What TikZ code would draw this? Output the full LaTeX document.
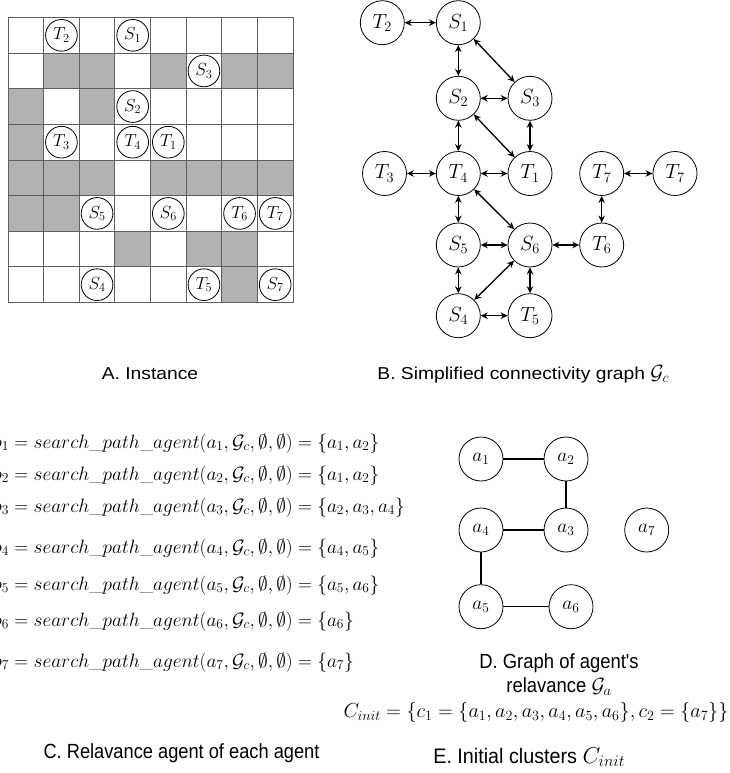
\documentclass[tikz,border=0pt]{standalone}
\usepackage{fix-cm}
\usepackage{fontspec}
\newfontfamily\labfont{Liberation Sans}
\usetikzlibrary{arrows.meta}
\definecolor{cellgray}{RGB}{178,178,178}
\definecolor{gridline}{RGB}{95,95,95}
\begin{document}
\begin{tikzpicture}[x=1pt,y=-1pt,
  cell/.style={draw=gridline, line width=0.8pt},
  gnode/.style={circle, draw, fill=white, line width=0.8pt, minimum size=31.7pt, inner sep=0pt, font=\fontsize{17.5}{20}\selectfont},
  bnode/.style={circle, draw, line width=0.8pt, minimum size=44pt, inner sep=0pt, font=\fontsize{20.5}{24}\selectfont},
  dnode/.style={circle, draw, line width=0.8pt, minimum size=44pt, inner sep=0pt, font=\fontsize{19.3}{23}\selectfont},
  biarrow/.style={line width=1.3pt, {Stealth[length=7pt,width=6.5pt]}-{Stealth[length=7pt,width=6.5pt]}},
  dedge/.style={line width=1.3pt},
  formula/.style={anchor=base west, inner sep=0pt, font=\fontsize{19.3}{23}\selectfont},
  lab/.style={anchor=base, inner sep=0pt}
]
\useasboundingbox (0,0) rectangle (729,773);

% ---------- A. grid ----------
\foreach \c/\r in {1/1,2/1,4/1,6/1,7/1,0/2,2/2,0/3,0/4,1/4,2/4,4/4,5/4,6/4,7/4,0/5,1/5,3/6,5/6,6/6,6/7}
  \fill[cellgray] ({8+35.625*\c},{17.5+35.625*\r}) rectangle ++(35.625,35.625);
\foreach \i in {0,...,8} {
  \draw[cell] ({8+35.625*\i},17.5) -- ({8+35.625*\i},302.5);
  \draw[cell] (8,{17.5+35.625*\i}) -- (293,{17.5+35.625*\i});
}
\foreach \t/\c/\r/\nm in {T_2/1/0/gT2, S_1/3/0/gS1, S_3/5/1/gS3, S_2/3/2/gS2, T_3/1/3/gT3, T_4/3/3/gT4, T_1/4/3/gT1,
  S_5/2/5/gS5, S_6/4/5/gS6, T_6/6/5/gT6, T_7/7/5/gT7, S_4/2/7/gS4, T_5/5/7/gT5, S_7/7/7/gS7}
  \node[gnode] (\nm) at ({8+35.625*(\c+0.5)},{17.5+35.625*(\r+0.5)}) {$\t$};

% ---------- B. connectivity graph ----------
\node[bnode] (T2) at (382.3,22.7) {$T_2$};
\node[bnode] (S1) at (458.3,22.7) {$S_1$};
\node[bnode] (S2) at (458.3,98.3) {$S_2$};
\node[bnode] (S3) at (530,98.3) {$S_3$};
\node[bnode] (T3) at (384.5,173.5) {$T_3$};
\node[bnode] (T4) at (458.3,173.5) {$T_4$};
\node[bnode] (T1) at (530,173.5) {$T_1$};
\node[bnode] (T7a) at (601.7,173.5) {$T_7$};
\node[bnode] (T7b) at (675,173.5) {$T_7$};
\node[bnode] (S5) at (458.3,245) {$S_5$};
\node[bnode] (S6) at (530,245) {$S_6$};
\node[bnode] (T6) at (601.7,245) {$T_6$};
\node[bnode] (S4) at (458.3,315.7) {$S_4$};
\node[bnode] (T5) at (530,315.7) {$T_5$};
\foreach \a/\b in {T2/S1, S1/S2, S1/S3, S2/S3, S2/T4, S2/T1, S3/T1, T3/T4, T4/T1, T7a/T7b, T7a/T6,
  T4/S5, T4/S6, S5/S6, S6/T6, S5/S4, S6/S4, S6/T5, S4/T5}
  \draw[biarrow] (\a) -- (\b);

% ---------- C. formulas ----------
\node[formula] (f1) at (-8,448) {$\rho_1 = search\_path\_agent(a_1,\mathcal{G}_c,\emptyset,\emptyset) = \{a_1,a_2\}$};
\node[formula] (f2) at (-8,480) {$\rho_2 = search\_path\_agent(a_2,\mathcal{G}_c,\emptyset,\emptyset) = \{a_1,a_2\}$};
\node[formula] (f3) at (-8,512) {$\rho_3 = search\_path\_agent(a_3,\mathcal{G}_c,\emptyset,\emptyset) = \{a_2,a_3,a_4\}$};
\node[formula] (f4) at (-8,553) {$\rho_4 = search\_path\_agent(a_4,\mathcal{G}_c,\emptyset,\emptyset) = \{a_4,a_5\}$};
\node[formula] (f5) at (-8,590) {$\rho_5 = search\_path\_agent(a_5,\mathcal{G}_c,\emptyset,\emptyset) = \{a_5,a_6\}$};
\node[formula] (f6) at (-8,626) {$\rho_6 = search\_path\_agent(a_6,\mathcal{G}_c,\emptyset,\emptyset) = \{a_6\}$};
\node[formula] (f7) at (-8,667) {$\rho_7 = search\_path\_agent(a_7,\mathcal{G}_c,\emptyset,\emptyset) = \{a_7\}$};

% ---------- D. agent graph ----------
\node[dnode] (a1) at (481,459) {$a_1$};
\node[dnode] (a2) at (566,459) {$a_2$};
\node[dnode] (a4) at (481,530) {$a_4$};
\node[dnode] (a3) at (566,530) {$a_3$};
\node[dnode] (a7) at (646.7,530) {$a_7$};
\node[dnode] (a5) at (481,606.7) {$a_5$};
\node[dnode] (a6) at (571,606.7) {$a_6$};
\draw[dedge] (a1) -- (a2);
\draw[dedge] (a2) -- (a3);
\draw[dedge] (a4) -- (a3);
\draw[dedge] (a4) -- (a5);
\draw[dedge] (a5) -- (a6);

% ---------- E. clusters ----------
\node[formula, anchor=base west, font=\fontsize{20.2}{24}\selectfont] (cinit) at (343.3,717) {$C_{init} = \{c_1 = \{a_1,a_2,a_3,a_4,a_5,a_6\},c_2 = \{a_7\}\}$};

% ---------- captions ----------
\node[lab] (labA) at (150,379) {\labfont\fontsize{17.2}{20}\selectfont\scalebox{1.12}[1]{A. Instance}};
\node[lab] (labB) at (523.3,379) {\labfont\fontsize{17.2}{20}\selectfont\scalebox{1.12}[1]{B. Simplified connectivity graph }\fontsize{20.5}{24}\selectfont$\mathcal{G}_c$};
\node[lab] (labC) at (181.5,758.7) {\labfont\fontsize{20.5}{24}\selectfont\scalebox{0.89}[1]{C. Relavance agent of each agent}};
\node[lab] (labD1) at (559,668) {\labfont\fontsize{20.5}{24}\selectfont\scalebox{0.9}[1]{D. Graph of agent's}};
\node[lab] (labD2) at (559,692) {\labfont\fontsize{20.5}{24}\selectfont\scalebox{0.9}[1]{relavance }\fontsize{20.5}{24}\selectfont$\mathcal{G}_a$};
\node[lab] (labE) at (529.2,763) {\labfont\fontsize{21}{24}\selectfont\scalebox{0.94}[1]{E. Initial clusters }\fontsize{23}{26}\selectfont$C_{init}$};
\end{tikzpicture}
\end{document}
